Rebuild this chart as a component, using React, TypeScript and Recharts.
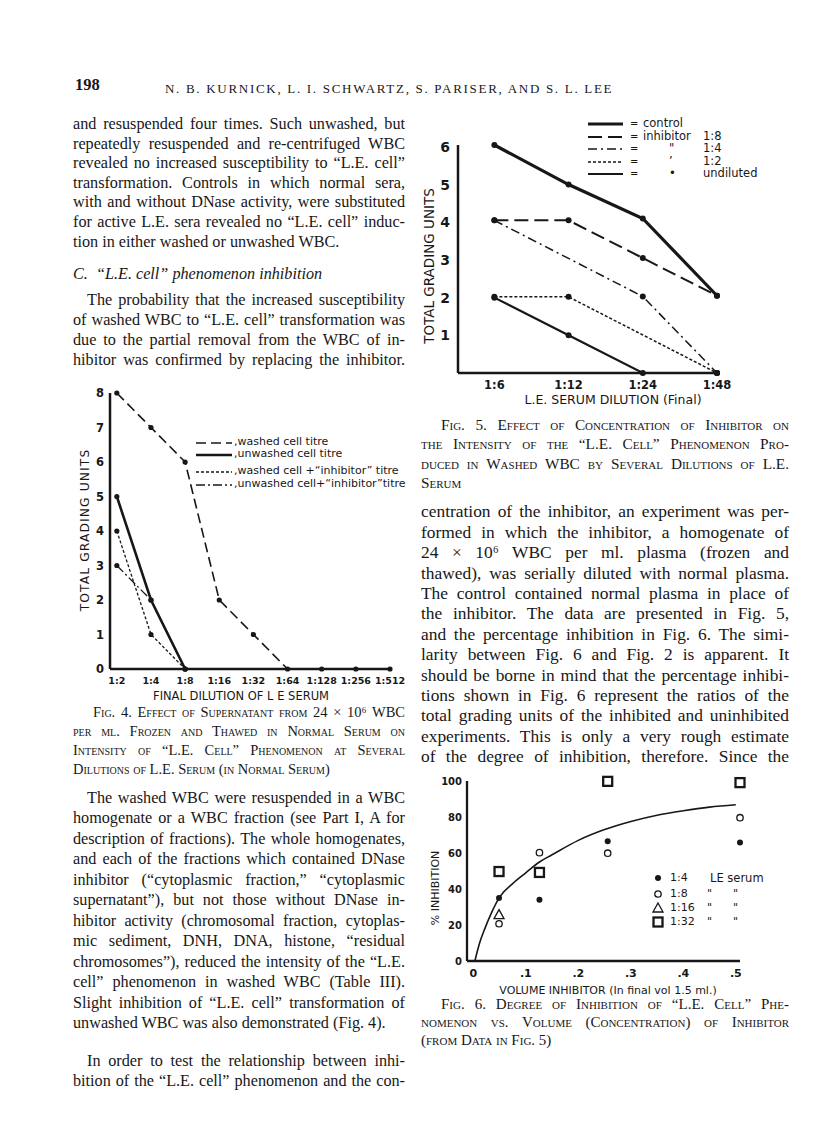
import React from 'react';
import {
  LineChart,
  Line,
  ComposedChart,
  Scatter,
  XAxis,
  YAxis,
  Legend,
} from 'recharts';

const INK = '#171717';
const SERIF = '"Liberation Serif", "Times New Roman", serif';
const HAND = '"DejaVu Sans", Verdana, sans-serif';

// Fig. 4 - titre of washed / unwashed cells
const fig4Dilutions = ['1:2', '1:4', '1:8', '1:16', '1:32', '1:64', '1:128', '1:256', '1:512'];
const washedTitre = [8, 7, 6, 2, 1, 0, 0, 0, 0];
const unwashedTitre = [5, 2, 0, null, null, null, null, null, null];
const washedInhibitorTitre = [4, 1, 0, null, null, null, null, null, null];
const unwashedInhibitorTitre = [3, 2, 0, null, null, null, null, null, null];
const fig4YTicks = [0, 1, 2, 3, 4, 5, 6, 7, 8];

// Fig. 5 - grading units vs serum dilution
const fig5Dilutions = ['1:6', '1:12', '1:24', '1:48'];
const controlUnits = [6.05, 5, 4.1, 2.05];
const inhibitor8Units = [4.05, 4.05, 3.05, 2.05];
const inhibitor4Units = [4.05, null, 2.03, 0];
const inhibitor2Units = [2.02, 2.02, null, 0];
const undilutedUnits = [2, 1, 0, 0];
const fig5YTicks = [1, 2, 3, 4, 5, 6];

// Fig. 6 - % inhibition vs volume of inhibitor
const inhibitorVolume = [0.049, 0.126, 0.256, 0.508];
const pctSerum4 = [35, 34, 66.5, 65.8];
const pctSerum8 = [20.7, 60.2, 59.9, 79.6];
const pctSerum16 = [25.8, null, null, null];
const pctSerum32 = [49.7, 49.2, 99.8, 99.1];
const curveVolume = [0.003, 0.012, 0.022, 0.035, 0.05, 0.075, 0.1, 0.126, 0.15, 0.2, 0.25, 0.3, 0.35, 0.4, 0.45, 0.5];
const curvePct = [0, 10, 18, 27, 35.5, 43, 49, 55, 59, 67, 73, 77.5, 81, 83.5, 85.5, 86.8];
const fig6XTicks = [0, 0.1, 0.2, 0.3, 0.4, 0.5];
const fig6XLabels = ['0', '.1', '.2', '.3', '.4', '.5'];
const fig6YTicks = [0, 20, 40, 60, 80, 100];

// page text
const introLines = [
  'and resuspended four times.  Such unwashed, but',
  'repeatedly resuspended and re-centrifuged WBC',
  'revealed no increased susceptibility to “L.E. cell”',
  'transformation.  Controls in which normal sera,',
  'with and without DNase activity, were substituted',
  'for active L.E. sera revealed no “L.E. cell” induc-',
  'tion in either washed or unwashed WBC.',
];
const probLines = [
  'The probability that the increased susceptibility',
  'of washed WBC to “L.E. cell” transformation was',
  'due to the partial removal from the WBC of in-',
  'hibitor was confirmed by replacing the inhibitor.',
];
const fig4Caption = [
  'Fig. 4.  Effect of Supernatant from 24 × 10⁶ WBC',
  'per ml. Frozen and Thawed in Normal Serum on',
  'Intensity of “L.E. Cell” Phenomenon at Several',
  'Dilutions of L.E. Serum (in Normal Serum)',
];
const washedLines = [
  'The washed WBC were resuspended in a WBC',
  'homogenate or a WBC fraction (see Part I, A for',
  'description of fractions).  The whole homogenates,',
  'and each of the fractions which contained DNase',
  'inhibitor (“cytoplasmic fraction,” “cytoplasmic',
  'supernatant”), but not those without DNase in-',
  'hibitor activity (chromosomal fraction, cytoplas-',
  'mic sediment, DNH, DNA, histone, “residual',
  'chromosomes”), reduced the intensity of the “L.E.',
  'cell” phenomenon in washed WBC (Table III).',
  'Slight inhibition of “L.E. cell” transformation of',
  'unwashed WBC was also demonstrated (Fig. 4).',
];
const orderLines = [
  'In order to test the relationship between inhi-',
  'bition of the “L.E. cell” phenomenon and the con-',
];
const fig5Caption = [
  'Fig. 5.  Effect of Concentration of Inhibitor on',
  'the Intensity of the “L.E. Cell” Phenomenon Pro-',
  'duced in Washed WBC by Several Dilutions of L.E.',
  'Serum',
];
const rightLines = [
  'centration of the inhibitor, an experiment was per-',
  'formed in which the inhibitor, a homogenate of',
  '24 × 10⁶ WBC per ml. plasma (frozen and',
  'thawed), was serially diluted with normal plasma.',
  'The control contained normal plasma in place of',
  'the inhibitor.  The data are presented in Fig. 5,',
  'and the percentage inhibition in Fig. 6.  The simi-',
  'larity between Fig. 6 and Fig. 2 is apparent.  It',
  'should be borne in mind that the percentage inhibi-',
  'tions shown in Fig. 6 represent the ratios of the',
  'total grading units of the inhibited and uninhibited',
  'experiments.  This is only a very rough estimate',
  'of the degree of inhibition, therefore.  Since the',
];
const fig6Caption = [
  'Fig. 6.  Degree of Inhibition of “L.E. Cell” Phe-',
  'nomenon vs. Volume (Concentration) of Inhibitor',
  '(from Data in Fig. 5)',
];

function TextBlock({ lines, x, y, w, step, size = 16, indent = 0, lastLeft = false, caps = false }: any) {
  const lh = Math.round(size * 1.15);
  return (
    <>
      {lines.map((t: string, k: number) => {
        const first = k === 0;
        const last = k === lines.length - 1;
        return (
          <div
            key={k}
            style={{
              position: 'absolute',
              left: x + (first ? indent : 0),
              top: y + k * step - lh * 0.58,
              width: w - (first ? indent : 0),
              height: lh,
              lineHeight: `${lh}px`,
              fontSize: size,
              whiteSpace: 'nowrap',
              textAlign: 'justify',
              textAlignLast: last && lastLeft ? 'left' : 'justify',
              fontVariant: caps ? 'small-caps' : 'normal',
            }}
          >
            {t}
          </div>
        );
      })}
    </>
  );
}

function Title({ x, y, text, size, spacing = 0, vertical = false, weight = 400 }: any) {
  return (
    <div
      style={{
        position: 'absolute',
        left: x,
        top: y,
        transform: `translate(-50%, -50%)${vertical ? ' rotate(-90deg)' : ''}`,
        whiteSpace: 'nowrap',
        fontFamily: HAND,
        fontSize: size,
        fontWeight: weight,
        letterSpacing: spacing,
        lineHeight: 1,
      }}
    >
      {text}
    </div>
  );
}

const blackDot = { r: 2.6, fill: INK, stroke: INK, strokeWidth: 0 };

// ---------- Fig. 4 ----------
const fig4Series = [
  { key: 'washed', label: 'washed cell titre', dash: '10 5', width: 1.6 },
  { key: 'unwashed', label: 'unwashed cell titre', dash: undefined, width: 2.6 },
  { key: 'washedInh', label: 'washed cell +“inhibitor” titre', dash: '3 2', width: 1.3 },
  { key: 'unwashedInh', label: 'unwashed cell+“inhibitor”titre', dash: '9 3 2 3', width: 1.3 },
];
const fig4LegendRows = [7, 19, 36, 49];

function Fig4Legend() {
  return (
    <div style={{ position: 'relative', width: 270, height: 60, fontFamily: HAND, fontSize: 11, color: INK }}>
      {fig4Series.map((s, k) => (
        <div
          key={s.key}
          style={{ position: 'absolute', left: 0, top: fig4LegendRows[k] - 6, height: 12, lineHeight: '12px', display: 'flex', alignItems: 'center', whiteSpace: 'nowrap' }}
        >
          <svg width={38} height={12}>
            <line x1={1} x2={37} y1={7} y2={7} stroke={INK} strokeWidth={s.width} strokeDasharray={s.dash} />
          </svg>
          <span style={{ marginLeft: 1 }}>,{s.label}</span>
        </div>
      ))}
    </div>
  );
}

function Fig4() {
  const rows = fig4Dilutions.map((_, i) => ({
    i,
    washed: washedTitre[i],
    unwashed: unwashedTitre[i],
    washedInh: washedInhibitorTitre[i],
    unwashedInh: unwashedInhibitorTitre[i],
  }));
  return (
    <div style={{ position: 'absolute', left: 60, top: 380 }}>
      <LineChart width={350} height={320} data={rows} margin={{ top: 13, right: 20, bottom: 0, left: 0 }}>
        <XAxis
          dataKey="i"
          type="number"
          domain={[-0.2, 8]}
          ticks={fig4Dilutions.map((_, i) => i)}
          interval={0}
          tickFormatter={(v: number) => fig4Dilutions[v]}
          height={31}
          tickLine={false}
          axisLine={{ stroke: INK, strokeWidth: 2.5 }}
          tick={{ fill: INK, fontSize: 9.5, fontWeight: 700, fontFamily: HAND }}
        />
        <YAxis
          type="number"
          domain={[0, 8]}
          ticks={fig4YTicks}
          interval={0}
          width={50}
          tickLine={false}
          tickMargin={0}
          axisLine={{ stroke: INK, strokeWidth: 2.5 }}
          tick={{ fill: INK, fontSize: 11.5, fontWeight: 700, fontFamily: HAND }}
        />
        <Legend
          layout="vertical"
          align="center"
          verticalAlign="middle"
          wrapperStyle={{ left: 135, top: 55, width: 270, height: 60 }}
          content={() => <Fig4Legend />}
        />
        {fig4Series.map((s) => (
          <Line
            key={s.key}
            dataKey={s.key}
            stroke={INK}
            strokeWidth={s.width}
            strokeDasharray={s.dash}
            dot={blackDot}
            activeDot={false}
            isAnimationActive={false}
          />
        ))}
      </LineChart>
    </div>
  );
}

// ---------- Fig. 5 ----------
const fig5Series = [
  { key: 'control', dash: undefined, width: 3.2 },
  { key: 'inh8', dash: '14 6', width: 2 },
  { key: 'inh4', dash: '9 4 2 4', width: 1.5 },
  { key: 'inh2', dash: '3 2', width: 1.5 },
  { key: 'undiluted', dash: undefined, width: 2.2 },
];
const fig5LegendText = [
  ['control', '', ''],
  ['inhibitor', '', '1:8'],
  ['', '"', '1:4'],
  ['', '\u2019', '1:2'],
  ['', '\u2022', 'undiluted'],
];
const fig5LegendRows = [4, 17, 29.5, 42, 54];

function Fig5Legend() {
  return (
    <div style={{ position: 'relative', width: 200, height: 64, fontFamily: HAND, fontSize: 11.5, color: INK }}>
      {fig5Series.map((s, k) => (
        <div key={s.key} style={{ position: 'absolute', left: 0, top: fig5LegendRows[k] - 5.5, height: 11, width: 200 }}>
          <svg width={36} height={11} style={{ position: 'absolute', left: 0, top: 0 }}>
            <line x1={0} x2={35} y1={6} y2={6} stroke={INK} strokeWidth={s.width} strokeDasharray={s.dash} />
          </svg>
          <span style={{ position: 'absolute', left: 42, top: 0, lineHeight: '11px', fontSize: 10 }}>=</span>
          <span style={{ position: 'absolute', left: 55, top: 0, lineHeight: '11px' }}>{fig5LegendText[k][0]}</span>
          <span style={{ position: 'absolute', left: 81, top: 0, lineHeight: '11px' }}>{fig5LegendText[k][1]}</span>
          <span style={{ position: 'absolute', left: 115, top: 0, lineHeight: '11px' }}>{fig5LegendText[k][2]}</span>
        </div>
      ))}
    </div>
  );
}

function Fig5() {
  const rows = fig5Dilutions.map((_, i) => ({
    i,
    control: controlUnits[i],
    inh8: inhibitor8Units[i],
    inh4: inhibitor4Units[i],
    inh2: inhibitor2Units[i],
    undiluted: undilutedUnits[i],
  }));
  return (
    <div style={{ position: 'absolute', left: 410, top: 100 }}>
      <LineChart width={390} height={320} data={rows} margin={{ top: 45, right: 83, bottom: 0, left: 0 }}>
        <XAxis
          dataKey="i"
          type="number"
          domain={[-0.49, 3]}
          ticks={fig5Dilutions.map((_, i) => i)}
          interval={0}
          tickFormatter={(v: number) => fig5Dilutions[v]}
          height={47}
          tickLine={false}
          axisLine={{ stroke: INK, strokeWidth: 2.5 }}
          tick={{ fill: INK, fontSize: 11.5, fontWeight: 700, fontFamily: HAND }}
        />
        <YAxis
          type="number"
          domain={[0, 6]}
          ticks={fig5YTicks}
          interval={0}
          width={48}
          tickLine={false}
          axisLine={{ stroke: INK, strokeWidth: 2.5 }}
          tick={{ fill: INK, fontSize: 14, fontWeight: 700, fontFamily: HAND }}
        />
        <Legend
          layout="vertical"
          align="center"
          verticalAlign="middle"
          wrapperStyle={{ left: 178, top: 19, width: 200, height: 64 }}
          content={() => <Fig5Legend />}
        />
        {fig5Series.map((s) => (
          <Line
            key={s.key}
            dataKey={s.key}
            stroke={INK}
            strokeWidth={s.width}
            strokeDasharray={s.dash}
            dot={{ ...blackDot, r: 3 }}
            activeDot={false}
            connectNulls
            isAnimationActive={false}
          />
        ))}
      </LineChart>
    </div>
  );
}

// ---------- Fig. 6 ----------
const FilledDot = (p: any) => <circle cx={p.cx} cy={p.cy} r={3} fill={INK} />;
const OpenDot = (p: any) => <circle cx={p.cx} cy={p.cy} r={3.2} fill="#fff" stroke={INK} strokeWidth={1.3} />;
const OpenTriangle = (p: any) => (
  <path
    d={`M${p.cx},${p.cy - 5} L${p.cx + 5},${p.cy + 4} L${p.cx - 5},${p.cy + 4} Z`}
    fill="#fff"
    stroke={INK}
    strokeWidth={1.3}
  />
);
const OpenSquare = (p: any) => (
  <rect x={p.cx - 4.5} y={p.cy - 4.5} width={9} height={9} fill="#fff" stroke={INK} strokeWidth={2.3} />
);

const fig6Series = [
  { name: '1:4', values: pctSerum4, Shape: FilledDot, ditto: ['LE serum', ''] },
  { name: '1:8', values: pctSerum8, Shape: OpenDot, ditto: ['"', '"'] },
  { name: '1:16', values: pctSerum16, Shape: OpenTriangle, ditto: ['"', '"'] },
  { name: '1:32', values: pctSerum32, Shape: OpenSquare, ditto: ['"', '"'] },
];
const fig6LegendRows = [8, 24, 38, 52];

function Fig6Legend() {
  return (
    <div style={{ position: 'relative', width: 130, height: 60, fontFamily: HAND, fontSize: 11, color: INK }}>
      {fig6Series.map((s, k) => (
        <div key={s.name} style={{ position: 'absolute', left: 0, top: fig6LegendRows[k] - 6, height: 12, width: 130 }}>
          <svg width={14} height={12} style={{ position: 'absolute', left: 0, top: 0 }}>
            <s.Shape cx={6} cy={6} />
          </svg>
          <span style={{ position: 'absolute', left: 18, top: 0, lineHeight: '12px' }}>{s.name}</span>
          {k === 0 ? (
            <span style={{ position: 'absolute', left: 58, top: 0, lineHeight: '12px', fontSize: 11.5 }}>{s.ditto[0]}</span>
          ) : (
            <>
              <span style={{ position: 'absolute', left: 55, top: 0, lineHeight: '12px' }}>{s.ditto[0]}</span>
              <span style={{ position: 'absolute', left: 81, top: 0, lineHeight: '12px' }}>{s.ditto[1]}</span>
            </>
          )}
        </div>
      ))}
    </div>
  );
}

function Fig6() {
  const curve = curveVolume.map((x, i) => ({ x, y: curvePct[i] }));
  const points = (vals: (number | null)[]) =>
    inhibitorVolume.map((x, i) => ({ x, y: vals[i] })).filter((p) => p.y !== null);
  return (
    <div style={{ position: 'absolute', left: 420, top: 760 }}>
      <ComposedChart width={370} height={240} margin={{ top: 21, right: 50, bottom: 0, left: 0 }}>
        <XAxis
          dataKey="x"
          type="number"
          domain={[-0.012, 0.505]}
          ticks={fig6XTicks}
          interval={0}
          tickFormatter={(_: number, idx: number) => fig6XLabels[idx]}
          height={39}
          tickLine={false}
          axisLine={{ stroke: INK, strokeWidth: 2.3 }}
          tick={{ fill: INK, fontSize: 11, fontWeight: 700, fontFamily: HAND }}
        />
        <YAxis
          type="number"
          domain={[0, 100]}
          ticks={fig6YTicks}
          interval={0}
          width={47}
          tickLine={false}
          tickSize={4}
          tickMargin={1}
          axisLine={{ stroke: INK, strokeWidth: 2.3 }}
          tick={{ fill: INK, fontSize: 10, fontWeight: 700, fontFamily: HAND }}
        />
        <Legend
          layout="vertical"
          align="center"
          verticalAlign="middle"
          wrapperStyle={{ left: 232, top: 110, width: 130, height: 60 }}
          content={() => <Fig6Legend />}
        />
        <Line
          data={curve}
          dataKey="y"
          type="monotone"
          stroke={INK}
          strokeWidth={1.6}
          dot={false}
          activeDot={false}
          isAnimationActive={false}
        />
        {fig6Series.map((s) => (
          <Scatter
            key={s.name}
            name={s.name}
            data={points(s.values)}
            dataKey="y"
            shape={(p: any) => <s.Shape cx={p.cx} cy={p.cy} />}
            isAnimationActive={false}
          />
        ))}
      </ComposedChart>
    </div>
  );
}

export default function App() {
  return (
    <div
      style={{
        position: 'absolute',
        left: 0,
        top: 0,
        width: 816,
        height: 1121,
        background: '#fff',
        color: INK,
        fontFamily: SERIF,
        overflow: 'hidden',
      }}
    >
      {/* running head */}
      <div style={{ position: 'absolute', left: 75, top: 75, fontSize: 16.5, fontWeight: 700, lineHeight: '20px' }}>198</div>
      <div
        style={{ position: 'absolute', left: 165, top: 79, fontSize: 13, letterSpacing: 1.7, lineHeight: '20px', whiteSpace: 'nowrap' }}
      >
        N. B. KURNICK, L. I. SCHWARTZ, S. PARISER, AND S. L. LEE
      </div>

      {/* left column */}
      <TextBlock lines={introLines} x={73} y={126} w={332} step={19.6} size={16.2} lastLeft />
      <div style={{ position: 'absolute', left: 73, top: 276 - 11, fontSize: 16.2, fontStyle: 'italic', lineHeight: '19px', whiteSpace: 'nowrap' }}>
        C.&nbsp; “L.E. cell” phenomenon inhibition
      </div>
      <TextBlock lines={probLines} x={73} y={302.5} w={332} step={19.7} size={16.2} indent={14} />

      <Fig4 />
      <Title x={85} y={530} text="TOTAL GRADING UNITS" size={12.3} spacing={1.1} vertical />
      <Title x={241} y={697} text="FINAL DILUTION OF L E SERUM" size={11.5} />

      <TextBlock lines={fig4Caption} x={73} y={714} w={332} step={19} size={14.5} indent={20} lastLeft caps />
      <TextBlock lines={washedLines} x={73} y={800} w={332} step={20.5} size={16.2} indent={14} lastLeft />
      <TextBlock lines={orderLines} x={73} y={1063} w={332} step={20.5} size={16.2} indent={14} />

      {/* right column */}
      <Fig5 />
      <Title x={430} y={266} text="TOTAL GRADING UNITS" size={13.5} vertical />
      <Title x={613} y={400} text="L.E. SERUM DILUTION (Final)" size={12.5} />

      <TextBlock lines={fig5Caption} x={421} y={426} w={368} step={19.5} size={15.3} indent={20} lastLeft caps />
      <TextBlock lines={rightLines} x={421} y={513} w={368} step={20.4} size={17.4} />

      <Fig6 />
      <Title x={435} y={888} text="% INHIBITION" size={11} vertical />
      <Title x={608} y={990} text="VOLUME INHIBITOR (In final vol 1.5 ml.)" size={11} />

      <TextBlock lines={fig6Caption} x={421} y={1006} w={368} step={18} size={15} indent={20} lastLeft caps />
    </div>
  );
}
